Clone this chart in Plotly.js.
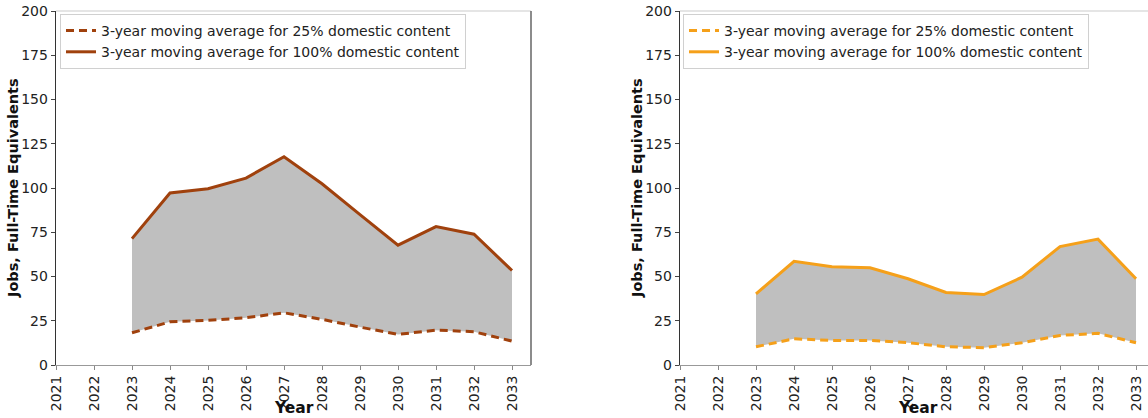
<!DOCTYPE html>
<html>
<head>
<meta charset="utf-8">
<script src="https://cdn.plot.ly/plotly-3.0.1.min.js"></script>
<style>html,body{margin:0;padding:0;background:#fff}#chart{width:1148px;height:418px}</style>
</head>
<body>
<div id="chart"></div>
<script>
const years = [2023, 2024, 2025, 2026, 2027, 2028, 2029, 2030, 2031, 2032, 2033];
const tickYears = [2021, 2022, 2023, 2024, 2025, 2026, 2027, 2028, 2029, 2030, 2031, 2032, 2033];
const leftLow = [18.2, 24.4, 25.2, 26.7, 29.5, 25.8, 21.4, 17.3, 19.7, 18.8, 13.5];
const leftHigh = [71.4, 97.2, 99.6, 105.6, 117.7, 102.4, 85.0, 67.7, 78.2, 73.9, 53.4];
const rightLow = [10.3, 14.8, 13.9, 13.9, 12.6, 10.3, 9.8, 12.6, 16.7, 17.9, 12.6];
const rightHigh = [40.2, 58.6, 55.5, 54.9, 48.7, 41.0, 39.8, 49.6, 66.9, 71.1, 48.7];
const labelLow = "3-year moving average for 25% domestic content";
const labelHigh = "3-year moving average for 100% domestic content";
const xTitle = "Year";
const yTitle = "Jobs, Full-Time Equivalents";

const FONT = "DejaVu Sans, sans-serif";
const W = 1148, H = 418;

function panel(low, high, color, xa, ya, leg) {
  return [
    {x: years, y: low, xaxis: xa, yaxis: ya, mode: 'lines', line: {width: 0, color: 'rgba(0,0,0,0)'}, showlegend: false, hoverinfo: 'skip'},
    {x: years, y: high, xaxis: xa, yaxis: ya, mode: 'lines', fill: 'tonexty', fillcolor: '#bfbfbf', line: {width: 0, color: 'rgba(0,0,0,0)'}, showlegend: false, hoverinfo: 'skip'},
    {x: years, y: low, xaxis: xa, yaxis: ya, mode: 'lines', name: labelLow, legend: leg, line: {color: color, width: 3, dash: '8px,5px'}},
    {x: years, y: high, xaxis: xa, yaxis: ya, mode: 'lines', name: labelHigh, legend: leg, line: {color: color, width: 3}}
  ];
}

const data = [].concat(
  panel(leftLow, leftHigh, '#a0410d', 'x', 'y', 'legend'),
  panel(rightLow, rightHigh, '#f5a01a', 'x2', 'y2', 'legend2')
);

const L1 = 56, R1 = 531, L2 = 680, R2 = 1148, R2full = 1156, TOP = 11, BOT = 365;
const ydom = [(H - BOT) / H, (H - TOP) / H];
const pxPerYear = 38.0;

function xaxis(l, r, yref) {
  return {
    domain: [l / W, r / W],
    range: [2021, 2021 + (r - l) / pxPerYear],
    tickvals: tickYears, ticktext: tickYears.map(String),
    tickangle: -90, ticks: 'outside', ticklen: 4, tickcolor: '#888', tickwidth: 1,
    tickfont: {family: FONT, size: 14, color: '#222'},
    showgrid: false, zeroline: false, showline: true, linecolor: '#999', linewidth: 1,
    anchor: yref, fixedrange: true
  };
}
function yaxis(xref) {
  return {
    domain: ydom, range: [0, 200], tickvals: [0, 25, 50, 75, 100, 125, 150, 175, 200],
    ticks: 'outside', ticklen: 4, tickcolor: '#444', tickwidth: 1,
    tickfont: {family: FONT, size: 14, color: '#222'},
    showgrid: false, zeroline: false, showline: true, linecolor: '#333', linewidth: 1.3,
    anchor: xref, fixedrange: true
  };
}

function legendCfg(xpx) {
  return {
    x: xpx / W, y: (H - 14) / H, xanchor: 'left', yanchor: 'top', xref: 'paper', yref: 'paper',
    bgcolor: 'rgba(255,255,255,0.85)', bordercolor: '#d0d0d0', borderwidth: 1,
    font: {family: FONT, size: 14, color: '#222'}, tracegroupgap: 0, itemwidth: 30,
    traceorder: 'normal'
  };
}

const titleFontX = {family: FONT, size: 15.5, color: '#111', weight: 'bold'};
const titleFontY = {family: FONT, size: 14.5, color: '#111', weight: 'bold'};

const layout = {
  width: W, height: H, margin: {l: 0, r: 0, t: 0, b: 0},
  paper_bgcolor: '#fff', plot_bgcolor: '#fff',
  showlegend: true,
  xaxis: xaxis(L1, R1, 'y'), yaxis: yaxis('x'),
  xaxis2: xaxis(L2, R2, 'y2'), yaxis2: yaxis('x2'),
  legend: legendCfg(60), legend2: legendCfg(683),
  annotations: [
    {text: xTitle, xref: 'paper', yref: 'paper', x: (L1 + R1) / 2 / W, y: (H - 408) / H, xanchor: 'center', yanchor: 'middle', showarrow: false, font: titleFontX},
    {text: xTitle, xref: 'paper', yref: 'paper', x: (L2 + R2full) / 2 / W, y: (H - 408) / H, xanchor: 'center', yanchor: 'middle', showarrow: false, font: titleFontX},
    {text: yTitle, xref: 'paper', yref: 'paper', x: 13 / W, y: (H - 188) / H, xanchor: 'center', yanchor: 'middle', textangle: -90, showarrow: false, font: titleFontY},
    {text: yTitle, xref: 'paper', yref: 'paper', x: 637 / W, y: (H - 188) / H, xanchor: 'center', yanchor: 'middle', textangle: -90, showarrow: false, font: titleFontY}
  ],
  shapes: [
    {type: 'line', xref: 'paper', yref: 'paper', x0: L1 / W, x1: R1 / W, y0: ydom[1], y1: ydom[1], line: {color: '#dcdcdc', width: 1.5}},
    {type: 'line', xref: 'paper', yref: 'paper', x0: R1 / W, x1: R1 / W, y0: ydom[0], y1: ydom[1], line: {color: '#666', width: 1.5}},
    {type: 'line', xref: 'paper', yref: 'paper', x0: L2 / W, x1: 1, y0: ydom[1], y1: ydom[1], line: {color: '#dcdcdc', width: 1.5}}
  ]
};

Plotly.newPlot('chart', data, layout, {displayModeBar: false, staticPlot: true});
</script>
</body>
</html>
